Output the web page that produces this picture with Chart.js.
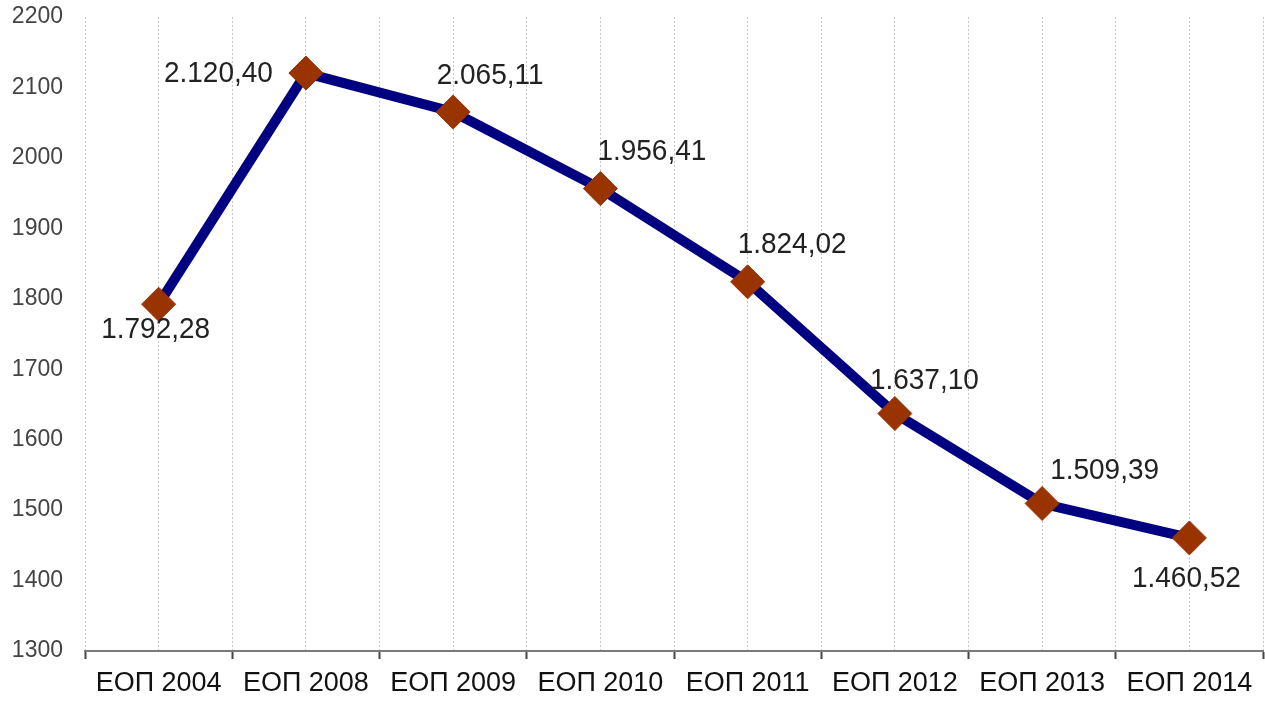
<!DOCTYPE html>
<html>
<head>
<meta charset="utf-8">
<script src="https://cdn.jsdelivr.net/npm/chart.js@4/dist/chart.umd.min.js"></script>
<style>
  html, body { margin: 0; padding: 0; background: #fff; }
  #wrap { width: 1265px; height: 701px; }
</style>
</head>
<body>
<div id="wrap"><canvas id="c" width="1265" height="701"></canvas></div>
<script>
const categories = ['ЕОП 2004', 'ЕОП 2008', 'ЕОП 2009', 'ЕОП 2010', 'ЕОП 2011', 'ЕОП 2012', 'ЕОП 2013', 'ЕОП 2014'];
const values = [1792.28, 2120.40, 2065.11, 1956.41, 1824.02, 1637.10, 1509.39, 1460.52];
const yMin = 1300;
const yMax = 2200;
const yStep = 100;

function fmtGreek(v) {
  const parts = v.toFixed(2).split('.');
  const intPart = parts[0].replace(/\B(?=(\d{3})+(?!\d))/g, '.');
  return intPart + ',' + parts[1];
}

const labelPlugin = {
  id: 'pointLabels',
  afterDatasetsDraw(chart, args, opts) {
    const ctx = chart.ctx;
    const meta = chart.getDatasetMeta(0);
    meta.data.forEach((pt, i) => {
      const o = opts.offsets[i];
      ctx.save();
      ctx.font = opts.font;
      ctx.fillStyle = opts.color;
      ctx.textBaseline = 'middle';
      ctx.textAlign = o[2];
      ctx.translate(pt.x + o[0], pt.y + o[1]);
      ctx.scale(1, opts.stretchY);
      ctx.fillText(fmtGreek(values[i]), 0, 0);
      ctx.restore();
    });
  }
};

function fitX(s) { s.height = 50; s.paddingLeft = 0; s.paddingRight = 0; }
function fitX2(s) { s.height = 0; s.paddingLeft = 0; s.paddingRight = 0; }
function fitY(s) { s.width = 85; s.paddingTop = 0; s.paddingBottom = 0; }

new Chart(document.getElementById('c'), {
  type: 'line',
  data: {
    labels: categories,
    datasets: [{
      data: values,
      borderColor: '#000080',
      borderWidth: 10,
      pointStyle: 'rectRot',
      pointRadius: 17,
      pointHoverRadius: 17,
      pointBackgroundColor: '#993300',
      pointBorderColor: '#993300',
      pointBorderWidth: 1,
      tension: 0,
      fill: false,
      clip: false
    }]
  },
  options: {
    responsive: false,
    animation: false,
    events: [],
    layout: { autoPadding: false, padding: { top: 17, right: 2, bottom: 0, left: 0 } },
    plugins: {
      legend: { display: false },
      tooltip: { enabled: false },
      title: { display: false },
      pointLabels: {
        font: '28px "Liberation Sans", Arial, sans-serif',
        color: '#222',
        stretchY: 1.04,
        offsets: [
          [-3, 26, 'center'],
          [-33, 1, 'right'],
          [37, -36, 'center'],
          [-3, -37, 'left'],
          [-10, -37, 'left'],
          [-25, -33, 'left'],
          [8, -33, 'left'],
          [-3, 41, 'center']
        ]
      }
    },
    scales: {
      x: {
        type: 'category',
        offset: true,
        afterFit: fitX,
        grid: {
          display: true,
          offset: true,
          color: '#c8c8c8',
          lineWidth: 1,
          drawTicks: true,
          tickLength: 8,
          tickColor: '#444',
          tickWidth: 2
        },
        border: { display: true, color: '#7a7a7a', width: 2, dash: [2, 2] },
        ticks: {
          color: '#111',
          font: { family: '"Liberation Sans", Arial, sans-serif', size: 27 },
          padding: 8,
          maxRotation: 0,
          autoSkip: false
        }
      },
      x2: {
        type: 'category',
        position: 'bottom',
        offset: true,
        afterFit: fitX2,
        grid: {
          display: true,
          offset: false,
          color: '#c8c8c8',
          lineWidth: 1,
          drawTicks: false
        },
        border: { display: false, dash: [2, 2] },
        ticks: { display: false }
      },
      y: {
        min: yMin,
        max: yMax,
        afterFit: fitY,
        grid: { display: false, drawTicks: false },
        border: { display: false },
        ticks: {
          stepSize: yStep,
          color: '#444',
          padding: 22,
          font: { family: '"Liberation Sans", Arial, sans-serif', size: 23 },
          callback: v => String(v)
        }
      }
    }
  },
  plugins: [labelPlugin]
});
</script>
</body>
</html>
